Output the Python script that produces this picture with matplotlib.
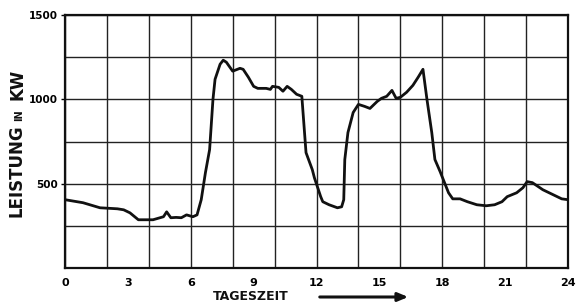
import matplotlib
matplotlib.use("Agg")
import matplotlib.pyplot as plt
from matplotlib.patches import FancyArrowPatch

hours = [0.0, 0.86, 1.67, 2.5, 2.8, 3.1, 3.5, 4.2, 4.7, 4.85, 5.05, 5.3, 5.55, 5.8, 6.1, 6.3,
         6.5, 6.7, 6.9, 7.06, 7.16, 7.4, 7.55, 7.7, 8.0, 8.35, 8.5, 8.75, 9.0, 9.2, 9.6, 9.8,
         9.9, 10.2, 10.4, 10.6, 10.8, 11.05, 11.3, 11.5, 11.8, 11.9, 12.2, 12.3, 12.6, 13.0,
         13.2, 13.3, 13.35, 13.5, 13.75, 14.0, 14.3, 14.55, 14.9, 15.1, 15.35, 15.6, 15.8,
         16.0, 16.3, 16.6, 16.85, 17.08, 17.27, 17.5, 17.65, 17.9, 18.05, 18.3, 18.5, 18.85,
         19.2, 19.65, 20.1, 20.5, 20.85, 21.1, 21.55, 21.85, 22.05, 22.3, 22.8, 23.3, 23.7, 24.0]
kw = [405, 387, 357, 351, 345, 327, 286, 286, 304, 333, 298, 300, 298, 315, 304, 315,
      405, 565, 702, 1000, 1119, 1208, 1232, 1220, 1167, 1184, 1178, 1131, 1077, 1065, 1065, 1059,
      1077, 1071, 1048, 1077, 1059, 1030, 1018, 684, 583, 535, 423, 393, 375, 357,
      363, 405, 643, 803, 922, 970, 958, 946, 988, 1006, 1018, 1053, 1006,
      1012, 1042, 1083, 1131, 1178, 1000, 803, 643, 571, 524, 446, 410, 410,
      393, 375, 369, 375, 393, 423, 446, 476, 512, 506, 464, 434, 410, 405]

x_ticks = [0, 3, 6, 9, 12, 15, 18, 21, 24]
y_ticks = [500, 1000, 1500]
x_grid = list(range(0, 25, 2))
y_grid = list(range(0, 1501, 250))

W, H = 579, 302
fig = plt.figure(figsize=(W / 100, H / 100), dpi=100)
ax = fig.add_axes([65 / W, 1 - 268 / H, (568 - 65) / W, (268 - 15) / H])

for g in x_grid:
    ax.axvline(g, color="#222222", lw=1.0, zorder=1)
for g in y_grid:
    ax.axhline(g, color="#222222", lw=1.0, zorder=1)

ax.plot(hours, kw, color="#111111", lw=2.0, zorder=3, solid_joinstyle="round")

ax.set_xlim(0, 24)
ax.set_ylim(0, 1500)
ax.set_xticks(x_ticks)
ax.set_yticks(y_ticks)
ax.set_xticklabels([str(t) for t in x_ticks], fontweight="bold", fontsize=8)
ax.set_yticklabels([str(t) for t in y_ticks], fontweight="bold", fontsize=7.5)
ax.tick_params(axis="x", length=0, pad=7)
ax.tick_params(axis="y", length=3, width=1, pad=2)
for s in ax.spines.values():
    s.set_linewidth(1.6)
    s.set_color("#111111")

# y label pieces
fig.text(17 / W, 1 - 217 / H, "LEISTUNG", rotation=90, ha="center", va="bottom",
         fontsize=12, fontweight="bold", color="#111111")
fig.text(19 / W, 1 - 115 / H, "IN", rotation=90, ha="center", va="center",
         fontsize=7, fontweight="bold", color="#111111")
fig.text(17 / W, 1 - 100 / H, "KW", rotation=90, ha="center", va="bottom",
         fontsize=12, fontweight="bold", color="#111111")

# x label and arrow
fig.text(251 / W, 1 - 297 / H, "TAGESZEIT", ha="center", va="center",
         fontsize=9, fontweight="bold", color="#111111")
arr = FancyArrowPatch((317 / W, 1 - 297 / H), (411 / W, 1 - 297 / H),
                      transform=fig.transFigure, arrowstyle="-|>,head_length=6,head_width=2.5",
                      lw=2.2, color="#111111", mutation_scale=1)
fig.patches.append(arr)

fig.savefig("out.png", dpi=100)
